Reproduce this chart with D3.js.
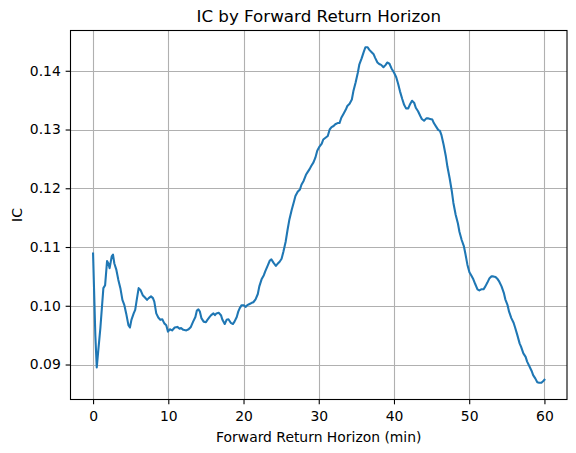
<!DOCTYPE html>
<html>
<head>
<meta charset="utf-8">
<script src="https://cdn.jsdelivr.net/npm/d3@7"></script>
<style>
  html, body { margin: 0; padding: 0; background: #fff; }
  svg { display: block; font-family: "DejaVu Sans", sans-serif; }
</style>
</head>
<body>
<svg id="chart" width="576" height="453"></svg>
<script>
const titleText = "IC by Forward Return Horizon";
const xLabelText = "Forward Return Horizon (min)";
const yLabelText = "IC";
const xTicks = [0, 10, 20, 30, 40, 50, 60];
const yTicks = [0.09, 0.10, 0.11, 0.12, 0.13, 0.14];

const horizon = [
  0.00, 0.15, 0.30, 0.49, 0.70, 0.97, 1.37, 1.60, 1.86, 2.04, 2.20, 2.48, 2.65, 2.83, 3.10, 3.36, 3.63, 3.90, 4.16, 4.40,
  4.70, 4.90, 5.10, 5.40, 5.60, 5.84, 6.06, 6.30, 6.60, 6.90, 7.17, 7.40, 7.70, 7.96, 8.14, 8.40, 8.67, 8.94, 9.20, 9.47,
  9.73, 9.96, 10.20, 10.50, 10.85, 11.20, 11.50, 11.70, 12.00, 12.40, 12.70, 13.00, 13.30, 13.60, 13.80, 14.00, 14.20, 14.40, 14.70, 15.00,
  15.20, 15.50, 15.70, 16.00, 16.20, 16.40, 16.70, 17.00, 17.20, 17.50, 17.75, 18.00, 18.30, 18.60, 18.80, 19.10, 19.30, 19.50, 19.75, 20.00,
  20.30, 20.50, 20.80, 21.10, 21.30, 21.60, 21.90, 22.10, 22.40, 22.70, 22.90, 23.20, 23.50, 23.70, 24.00, 24.30, 24.50, 24.80, 25.06, 25.30,
  25.60, 25.85, 26.10, 26.40, 26.70, 26.90, 27.20, 27.50, 27.70, 28.00, 28.30, 28.50, 28.80, 29.00, 29.30, 29.55, 29.80, 30.10, 30.40, 30.60,
  30.90, 31.20, 31.45, 31.70, 31.97, 32.20, 32.50, 32.76, 33.00, 33.30, 33.60, 33.80, 34.10, 34.40, 34.60, 34.90, 35.20, 35.40, 35.70, 35.95,
  36.20, 36.50, 36.70, 37.00, 37.30, 37.50, 37.80, 38.10, 38.30, 38.60, 38.90, 39.10, 39.40, 39.67, 40.00, 40.30, 40.55, 40.80, 41.10, 41.35,
  41.60, 41.90, 42.10, 42.40, 42.70, 42.90, 43.20, 43.50, 43.70, 44.00, 44.30, 44.50, 44.80, 45.10, 45.30, 45.60, 45.90, 46.10, 46.30, 46.60,
  46.90, 47.10, 47.40, 47.70, 47.90, 48.20, 48.50, 48.70, 49.00, 49.30, 49.50, 49.76, 50.03, 50.30, 50.55, 50.80, 51.10, 51.35, 51.60, 51.90,
  52.15, 52.40, 52.70, 52.96, 53.20, 53.50, 53.80, 54.00, 54.30, 54.60, 54.80, 55.10, 55.30, 55.60, 55.90, 56.10, 56.40, 56.70, 56.90, 57.20,
  57.50, 57.70, 58.00, 58.30, 58.50, 58.80, 59.05, 59.30, 59.60, 59.85, 60.00
];

const ic = [
  0.1089, 0.1020, 0.0950, 0.0895, 0.0925, 0.0962, 0.1030, 0.1035, 0.1076, 0.1072, 0.1064, 0.1084, 0.1087, 0.1072, 0.1061, 0.1044, 0.1030, 0.1010, 0.1001, 0.0987,
  0.0967, 0.0963, 0.0976, 0.0987, 0.0993, 0.1013, 0.1030, 0.1027, 0.1018, 0.1014, 0.1010, 0.1013, 0.1016, 0.1013, 0.1007, 0.0987, 0.0980, 0.0976, 0.0977, 0.0970,
  0.0967, 0.0956, 0.0960, 0.0958, 0.0963, 0.0964, 0.0961, 0.0962, 0.0959, 0.0958, 0.0960, 0.0964, 0.0973, 0.0981, 0.0992, 0.0994, 0.0990, 0.0979, 0.0973, 0.0972,
  0.0976, 0.0981, 0.0984, 0.0987, 0.0984, 0.0987, 0.0988, 0.0984, 0.0976, 0.0969, 0.0976, 0.0977, 0.0971, 0.0969, 0.0973, 0.0981, 0.0990, 0.0996, 0.1001, 0.1001,
  0.0998, 0.1001, 0.1003, 0.1005, 0.1006, 0.1011, 0.1020, 0.1033, 0.1045, 0.1052, 0.1059, 0.1068, 0.1077, 0.1079, 0.1073, 0.1068, 0.1071, 0.1075, 0.1080, 0.1092,
  0.1109, 0.1129, 0.1147, 0.1163, 0.1177, 0.1187, 0.1194, 0.1198, 0.1206, 0.1213, 0.1223, 0.1227, 0.1233, 0.1238, 0.1244, 0.1252, 0.1264, 0.1271, 0.1276, 0.1283,
  0.1286, 0.1289, 0.1300, 0.1304, 0.1306, 0.1309, 0.1311, 0.1311, 0.1320, 0.1327, 0.1334, 0.1340, 0.1344, 0.1351, 0.1365, 0.1380, 0.1397, 0.1411, 0.1421, 0.1431,
  0.1440, 0.1440, 0.1436, 0.1432, 0.1428, 0.1422, 0.1414, 0.1411, 0.1410, 0.1406, 0.1410, 0.1414, 0.1412, 0.1404, 0.1397, 0.1389, 0.1378, 0.1365, 0.1352, 0.1342,
  0.1336, 0.1336, 0.1342, 0.1349, 0.1345, 0.1337, 0.1331, 0.1323, 0.1318, 0.1315, 0.1319, 0.1319, 0.1318, 0.1317, 0.1311, 0.1305, 0.1299, 0.1298, 0.1291, 0.1274,
  0.1254, 0.1237, 0.1217, 0.1194, 0.1175, 0.1155, 0.1140, 0.1126, 0.1112, 0.1101, 0.1088, 0.1070, 0.1057, 0.1051, 0.1045, 0.1037, 0.1028, 0.1026, 0.1028, 0.1028,
  0.1033, 0.1039, 0.1047, 0.1050, 0.1050, 0.1049, 0.1045, 0.1041, 0.1033, 0.1022, 0.1011, 0.1001, 0.0990, 0.0979, 0.0971, 0.0963, 0.0950, 0.0936, 0.0930, 0.0919,
  0.0913, 0.0905, 0.0897, 0.0889, 0.0882, 0.0876, 0.0870, 0.0869, 0.0869, 0.0872, 0.0874
];

const data = horizon.map((h, i) => ({ x: h, y: ic[i] }));

const svg = d3.select("#chart");
const plot = { left: 70.5, right: 567, top: 30.5, bottom: 399.5 };

const xMin = d3.min(horizon), xMax = d3.max(horizon);
const yMin = d3.min(ic), yMax = d3.max(ic);
const xPad = (xMax - xMin) * 0.05, yPad = (yMax - yMin) * 0.05;

const x = d3.scaleLinear().domain([xMin - xPad, xMax + xPad]).range([plot.left, plot.right]);
const y = d3.scaleLinear().domain([yMin - yPad, yMax + yPad]).range([plot.bottom, plot.top]);

// grid
const grid = svg.append("g").attr("class", "grid");
grid.selectAll("line.vx").data(xTicks).enter().append("line")
  .attr("x1", d => Math.round(x(d)) + 0.5).attr("x2", d => Math.round(x(d)) + 0.5)
  .attr("y1", plot.top).attr("y2", plot.bottom)
  .attr("stroke", "#b0b0b0").attr("stroke-width", 1.1);
grid.selectAll("line.hy").data(yTicks).enter().append("line")
  .attr("y1", d => Math.round(y(d)) + 0.5).attr("y2", d => Math.round(y(d)) + 0.5)
  .attr("x1", plot.left).attr("x2", plot.right)
  .attr("stroke", "#b0b0b0").attr("stroke-width", 1.1);

// line
const line = d3.line().x(d => x(d.x)).y(d => y(d.y));
svg.append("path").datum(data)
  .attr("d", line)
  .attr("fill", "none")
  .attr("stroke", "#1f77b4")
  .attr("stroke-width", 2.08)
  .attr("stroke-linejoin", "round")
  .attr("stroke-linecap", "square");

// frame
svg.append("rect")
  .attr("x", plot.left).attr("y", plot.top)
  .attr("width", plot.right - plot.left).attr("height", plot.bottom - plot.top)
  .attr("fill", "none").attr("stroke", "#000").attr("stroke-width", 1.1);

// axes
const xAxis = d3.axisBottom(x).tickValues(xTicks).tickFormat(d3.format("d")).tickSize(4.86).tickPadding(4.86);
const yAxis = d3.axisLeft(y).tickValues(yTicks).tickFormat(d3.format(".2f")).tickSize(4.86).tickPadding(4.86);

const gx = svg.append("g").attr("transform", `translate(0,${plot.bottom})`).call(xAxis);
const gy = svg.append("g").attr("transform", `translate(${plot.left},0)`).call(yAxis);
[gx, gy].forEach(g => {
  g.select(".domain").remove();
  g.selectAll(".tick line").attr("stroke", "#000").attr("stroke-width", 1.1);
  g.selectAll(".tick text").attr("fill", "#000")
    .style("font-family", '"DejaVu Sans", sans-serif').style("font-size", "13.9px");
});
gx.selectAll(".tick text").attr("dy", null).attr("y", 21.5);

// labels
svg.append("text").attr("x", (plot.left + plot.right) / 2).attr("y", 22.3)
  .attr("text-anchor", "middle").style("font-size", "16.7px").attr("fill", "#000")
  .text(titleText);
svg.append("text").attr("x", (plot.left + plot.right) / 2).attr("y", 442.3)
  .attr("text-anchor", "middle").style("font-size", "13.9px").attr("fill", "#000")
  .text(xLabelText);
svg.append("text")
  .attr("transform", `translate(21.5,${(plot.top + plot.bottom) / 2}) rotate(-90)`)
  .attr("text-anchor", "middle").style("font-size", "13.9px").attr("fill", "#000")
  .text(yLabelText);
</script>
</body>
</html>
